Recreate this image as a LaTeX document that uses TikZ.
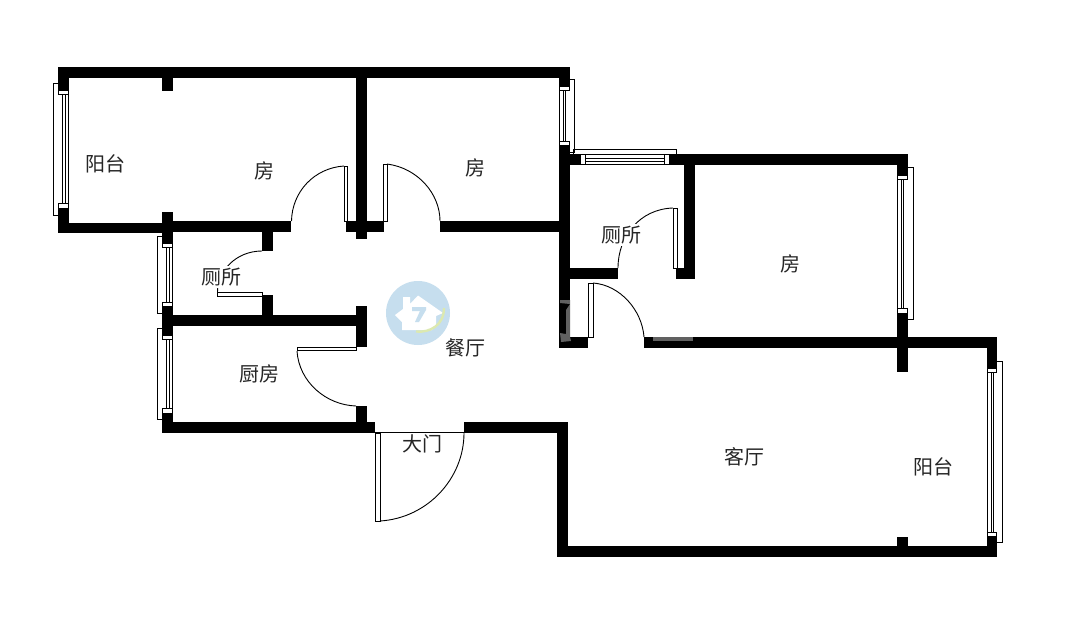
\documentclass[tikz,border=0pt]{standalone}
\usepackage{fontspec}
\setmainfont{Noto Sans CJK SC}
\definecolor{markblue}{HTML}{C6DEEE}
\definecolor{markgreen}{HTML}{DCE9B0}
\newcommand{\wl}[4]{\fill[black] (#1,#2) rectangle (#3,#4);}
\newcommand{\capb}[4]{\filldraw[fill=white,draw=black,line width=.8pt] (#1,#2) rectangle (#3,#4);}
\tikzset{
  winline/.style={draw=black,line width=1pt},
  doorline/.style={draw=black,line width=.9pt},
  roomlabel/.style={font=\fontsize{20}{20}\selectfont,text=black!85,inner sep=0pt},
  gaplabel/.style={roomlabel,fill=white,inner sep=2pt}
}
\begin{document}
\begin{tikzpicture}[x=1pt,y=-1pt]
\useasboundingbox (0,0) rectangle (1089,627);
\fill[white] (0,0) rectangle (1089,627);
% watermark
\fill[markblue] (418,313) circle (32);
\fill[white] (395,315) -- (403,309) -- (403,297) -- (410,297) -- (410,304) -- (418,295.5) -- (443,313) -- (436,316) -- (436,326) -- (432,330) -- (402,330) -- (402,322) -- cycle;
\fill[markblue] (412,307) -- (426,307) -- (426,310) -- (419,322) -- (415,322) -- (420,311) -- (412,311) -- cycle;
\draw[markgreen,line width=2.4pt] (416,331.5) .. controls (430,333) and (444,325) .. (444,308);
% windows (drawn below the walls)
\foreach \xa/\xc/\ya/\yd in {
  53.5/68/83/215,
  157.5/172/236/313,
  157.5/172/328/419,
  559.5/574.5/79/152,
  897.5/913/167/319,
  987.5/1002/361/542}{
  \draw[winline] (\xa,\ya) rectangle (\xc,\yd);
}
% walls
\wl{58}{67}{570}{78}
\wl{58}{67}{69}{90}
\wl{58}{208}{69}{233}
\wl{58}{223}{173}{233}
\wl{162}{221}{291}{232}
\wl{162}{78}{173}{91}
\wl{162}{212}{173}{243}
\wl{356}{78}{367}{239}
\wl{346}{221}{384}{232}
\wl{262}{232}{273}{251}
\wl{262}{295}{273}{315}
\wl{162}{306}{173}{335}
\wl{162}{315}{367}{326}
\wl{356}{306}{367}{347}
\wl{356}{406}{367}{422}
\wl{162}{413}{173}{433}
\wl{162}{422}{375}{433}
\wl{440}{221}{559}{232}
\wl{559}{67}{570}{86}
\wl{559}{145}{570}{348}
\wl{559}{154}{580}{165}
\wl{669}{154}{908}{165}
\wl{897}{154}{908}{175}
\wl{684}{165}{695}{279}
\wl{676}{268}{695}{279}
\wl{570}{268}{618}{279}
\wl{559}{337}{588}{348}
\wl{644}{337}{997}{348}
\wl{897}{313}{908}{372}
\wl{987}{337}{997}{368}
\wl{987}{536}{997}{557}
\wl{558}{546}{997}{557}
\wl{897}{537}{908}{546}
\wl{464}{422}{568}{433}
\wl{557}{422}{568}{557}
% watermark marks showing over the walls
\fill[black!62] (560,300) -- (570,300) -- (570,337) -- (571,341) -- (561,342) -- (560,333) -- (566,334) -- (566,310) -- (570,304) -- (560,303) -- cycle;
\fill[black!62] (653,337) rectangle (693,341);
% window glass and caps: left-hand windows
\foreach \xa/\xb/\ya/\yb/\yc/\yd in {
  58/69/90/94/203/208,
  162/173/243/247/302/306,
  162/173/335/339/408/413}{
  \draw[winline] (\xb-7,\yb) rectangle (\xb-4,\yc);
  \capb{\xa}{\ya}{\xb-1}{\yb}
  \capb{\xa}{\yc}{\xb-1}{\yd}
}
% window glass and caps: right-hand windows
\foreach \xa/\xb/\ya/\yb/\yc/\yd in {
  559.5/570/86/90/141/145,
  897.5/908/175/179/308/313,
  987.5/997/368/372/532/536}{
  \draw[winline] (\xa+3.5,\yb) rectangle (\xa+6,\yc);
  \capb{\xa}{\ya}{\xb-1}{\yb}
  \capb{\xa}{\yc}{\xb-1}{\yd}
}
% horizontal window
\draw[winline] (573,149) rectangle (676,154);
\filldraw[fill=white,winline] (585,158.5) rectangle (664,161);
\draw[winline] (585,164.5) -- (664,164.5);
\capb{580}{154}{585}{164.5}
\capb{664}{154}{669}{164.5}
% doors: leaves
\draw[doorline,fill=white] (344,166) rectangle (347.5,221);
\draw[doorline,fill=white] (383.5,164) rectangle (387.5,221);
\draw[doorline,fill=white] (217.5,292.5) rectangle (262,296);
\draw[doorline,fill=white] (297,347) rectangle (356,350.5);
\draw[doorline,fill=white] (673,208) rectangle (677,268);
\draw[doorline,fill=white] (588.5,283) rectangle (593,337);
\draw[doorline,fill=white] (375,433) rectangle (380,521);
% door swings
\draw[doorline] (344,166) .. controls (314,168) and (292,192) .. (291.5,221);
\draw[doorline] (387,164) .. controls (418,168) and (440,194) .. (440,221);
\draw[doorline] (262,251) .. controls (236,251) and (217.5,271) .. (217.5,292);
\draw[doorline] (297,351) .. controls (299,382) and (326,405) .. (356,406);
\draw[doorline] (673,208) .. controls (640,209) and (618,236) .. (618,268);
\draw[doorline] (593,283) .. controls (620,285) and (642,310) .. (644,337);
\draw[doorline] (380,521) .. controls (428,518) and (464,478) .. (464,433);
\draw[doorline] (375,432.5) -- (464,432.5);
% labels
\node[roomlabel] (yangtai1) at (105,164) {阳台};
\node[roomlabel] (fang1) at (264,171) {房};
\node[roomlabel] (fang2) at (475,168) {房};
\node[roomlabel] (fang3) at (790,264) {房};
\node[gaplabel] (cesuo1) at (221,277) {厕所};
\node[gaplabel] (cesuo2) at (621,235) {厕所};
\node[roomlabel] (chufang) at (259,374) {厨房};
\node[roomlabel] (canting) at (465,348) {餐厅};
\node[gaplabel] (damen) at (422,444) {大门};
\node[roomlabel] (keting) at (744,457) {客厅};
\node[roomlabel] (yangtai2) at (933,467) {阳台};
\end{tikzpicture}
\end{document}
